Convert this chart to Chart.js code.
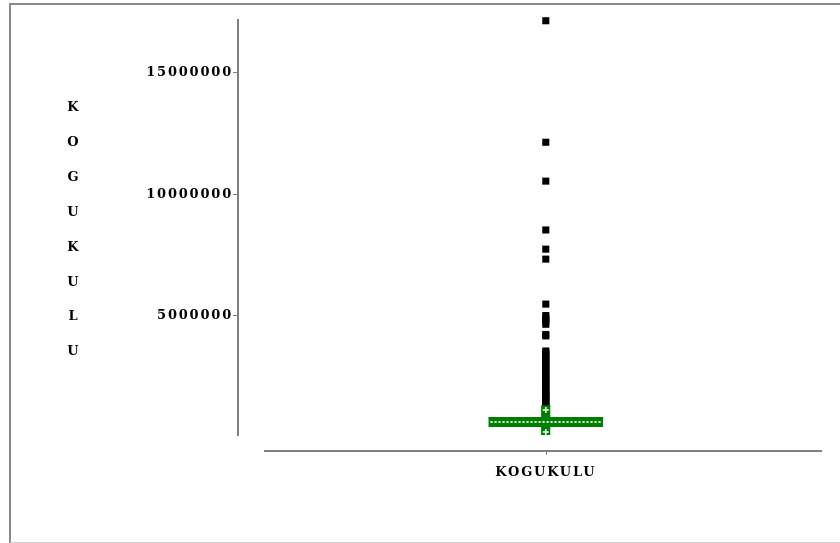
<!DOCTYPE html>
<html>
<head>
<meta charset="utf-8">
<script src="https://cdn.jsdelivr.net/npm/chart.js@4.4.1/dist/chart.umd.min.js"></script>
<style>
  html, body { margin: 0; padding: 0; background: #fff; }
  #wrap { position: relative; width: 840px; height: 543px; }
  #frame { position: absolute; left: 9px; top: 3px; width: 831px; height: 537px;
           border-left: 2px solid #8a8a8a; border-top: 2px solid #8a8a8a; border-bottom: 1px solid #d0d0d0; }
  #ylabel { position: absolute; left: 58px; top: 90px; width: 30px; text-align: center;
            font: bold 13px "DejaVu Serif"; line-height: 34.9px; color: #000; }
  canvas { position: absolute; left: 0; top: 0; }
</style>
</head>
<body>
<div id="wrap">
  <div id="frame"></div>
  <canvas id="grafico" width="840" height="543"></canvas>
  <div id="ylabel">K<br>O<br>G<br>U<br>K<br>U<br>L<br>U</div>
</div>
<script>
// dados
const categoria = 'KOGUKULU';
const yTicks = [5000000, 10000000, 15000000];
// [Q1, mediana, Q3]
const caixa = [432000, 638000, 823000];
// [minimo, maximo] dos bigodes
const bigodes = [20000, 1300000];
const outliers = [
  17150000, 12150000, 10550000, 8540000, 7750000, 7340000,
  5490000, 5020000, 4930000, 4850000, 4760000, 4660000, 4240000, 4180000,
  3560000, 3490000, 3410000, 3330000, 3220000, 3140000, 3050000, 2980000,
  2870000, 2790000, 2700000, 2610000, 2540000, 2450000, 2380000, 2300000,
  2210000, 2130000, 2060000, 1970000, 1900000, 1820000, 1750000, 1680000,
  1600000, 1530000, 1470000, 1390000, 1340000, 1260000
];

// posicao horizontal (eixo x vai de 0 a 1)
var centro = 0.505;
var meiaCaixa = 0.103;
var meioBigode = 0.0085;

var fonte = { family: 'DejaVu Serif', size: 13, weight: 'bold' };

// linha do eixo x, separada do eixo y como no original
var eixoX = {
  id: 'eixoX',
  beforeDraw(chart) {
    chart.ctx.letterSpacing = '1.8px';
  },
  afterDraw(chart) {
    var x = chart.scales.x;
    var ctx = chart.ctx;
    var y0 = chart.chartArea.bottom + 16;
    ctx.save();
    ctx.strokeStyle = '#808080';
    ctx.lineWidth = 2;
    ctx.beginPath();
    ctx.moveTo(x.getPixelForValue(0), y0);
    ctx.lineTo(x.getPixelForValue(1), y0);
    ctx.stroke();
    ctx.lineWidth = 1;
    ctx.beginPath();
    x.ticks.forEach(t => {
      var px = Math.round(x.getPixelForValue(t.value)) + 0.5;
      ctx.moveTo(px, y0);
      ctx.lineTo(px, y0 + 4);
    });
    ctx.stroke();
    ctx.restore();
  }
};

var data = {
  datasets: [
    {
      // mediana pontilhada
      data: [{ x: centro - meiaCaixa + 0.004, y: caixa[1] }, { x: centro + meiaCaixa - 0.004, y: caixa[1] }],
      borderColor: '#ffffff', borderWidth: 2, borderDash: [2, 2], pointRadius: 0, fill: false
    },
    {
      // marcas brancas no bigode
      type: 'scatter',
      data: [{ x: centro, y: 1130000 }, { x: centro, y: 230000 }],
      pointStyle: 'cross', pointRadius: 3, borderColor: '#ffffff', borderWidth: 1.5
    },
    {
      // caixa Q1-Q3
      data: [{ x: centro - meiaCaixa, y: caixa[2] }, { x: centro + meiaCaixa, y: caixa[2] }],
      borderColor: '#008000', borderWidth: 1, backgroundColor: '#008000',
      pointRadius: 0, fill: { value: caixa[0] }
    },
    {
      // bigodes
      data: [{ x: centro - meioBigode, y: bigodes[1] }, { x: centro + meioBigode, y: bigodes[1] }],
      borderColor: '#008000', borderWidth: 1, backgroundColor: '#008000',
      pointRadius: 0, fill: { value: bigodes[0] }
    },
    {
      type: 'scatter',
      data: outliers.map(v => ({ x: centro, y: v })),
      pointStyle: 'rect', pointRadius: 5, borderWidth: 0,
      backgroundColor: '#000000', borderColor: '#000000', clip: false
    }
  ]
};

var options = {
  responsive: false,
  animation: false,
  layout: { padding: { top: 20, right: 18, left: 0, bottom: 0 } },
  plugins: { legend: { display: false }, tooltip: { enabled: false } },
  elements: { line: { tension: 0 } },
  scales: {
    x: {
      type: 'linear',
      min: -0.0466, max: 1,
      grid: { display: false },
      border: { display: false },
      afterBuildTicks: s => { s.ticks = [{ value: centro }]; },
      afterFit: s => { s.height = 108; },
      ticks: { callback: () => categoria, color: '#000', font: fonte, padding: 22, maxRotation: 0 }
    },
    y: {
      type: 'linear',
      min: 103000, max: 17180000,
      afterBuildTicks: s => { s.ticks = yTicks.map(v => ({ value: v })); },
      afterFit: s => { s.width = 238; },
      grid: { drawOnChartArea: false, tickLength: 5, color: '#808080', lineWidth: 1 },
      border: { display: true, color: '#808080', width: 2 },
      ticks: { callback: v => String(v), color: '#000', font: fonte, padding: 0 }
    }
  }
};

var ctx = document.getElementById('grafico').getContext('2d');
var myChart = new Chart(ctx, {
  type: 'line',
  data: data,
  options: options,
  plugins: [eixoX]
});
</script>
</body>
</html>
